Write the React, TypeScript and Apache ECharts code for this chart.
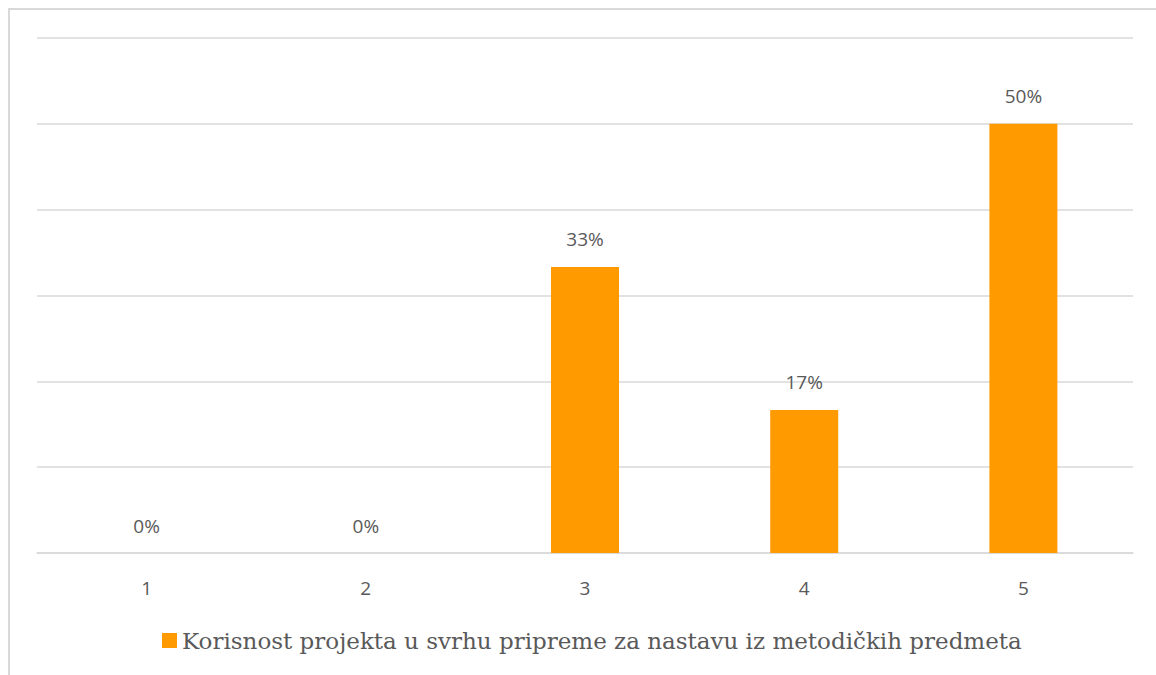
import React, { useEffect, useRef } from "react";
import * as echarts from "echarts";

const categories = ["1", "2", "3", "4", "5"];
const values = [0, 0, 33.33, 16.67, 50];
const seriesName = "Korisnost projekta u svrhu pripreme za nastavu iz metodičkih predmeta";

export default function App() {
  const ref = useRef<HTMLDivElement>(null);
  useEffect(() => {
    if (!ref.current) return;
    const chart = echarts.init(ref.current, undefined, { renderer: "svg" });
    chart.setOption({
      animation: false,
      backgroundColor: "transparent",
      grid: { left: 37, right: 23, top: 38, bottom: 122 },
      legend: {
        data: [seriesName],
        left: 157,
        top: 624,
        icon: "rect",
        itemWidth: 15,
        itemHeight: 15,
        itemGap: 4,
        textStyle: { fontFamily: "DejaVu Serif", fontSize: 23, color: "#595959" },
      },
      xAxis: {
        type: "category",
        data: categories,
        axisLine: { lineStyle: { color: "#d9d9d9", width: 1.5 } },
        axisTick: { show: false },
        axisLabel: { color: "#595959", fontSize: 19, fontFamily: "Open Sans", margin: 25 },
      },
      yAxis: {
        type: "value",
        min: 0,
        max: 60,
        interval: 10,
        axisLabel: { show: false },
        axisLine: { show: false },
        axisTick: { show: false },
        splitLine: { lineStyle: { color: "#d9d9d9", width: 1.5 } },
      },
      series: [
        {
          name: seriesName,
          type: "bar",
          data: values,
          barWidth: 68,
          itemStyle: { color: "#ff9a00" },
          label: {
            show: true,
            position: "top",
            distance: 18,
            color: "#595959",
            fontSize: 19,
            fontFamily: "Open Sans",
            formatter: (p: any) => Math.round(p.value) + "%",
          },
        },
      ],
    });
    return () => chart.dispose();
  }, []);
  return (
    <div style={{ position: "fixed", left: 0, top: 0, width: 1156, height: 675, background: "#fff" }}>
      <div
        style={{
          position: "absolute",
          left: 8,
          top: 8,
          width: 1200,
          height: 700,
          borderLeft: "2px solid #d9d9d9",
          borderTop: "2px solid #d9d9d9",
        }}
      />
      <div ref={ref} style={{ position: "absolute", left: 0, top: 0, width: 1156, height: 675 }} />
    </div>
  );
}
